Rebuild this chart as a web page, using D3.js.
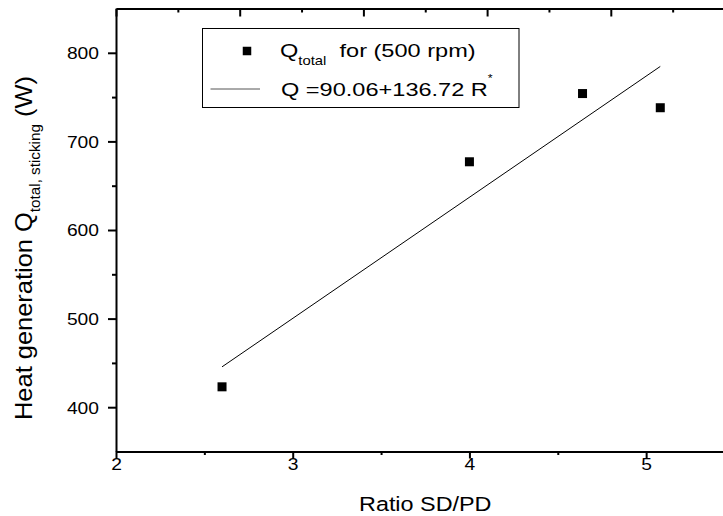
<!DOCTYPE html>
<html>
<head>
<meta charset="utf-8">
<script src="https://cdn.jsdelivr.net/npm/d3@7"></script>
<style>
  body { margin: 0; background: #fff; }
  svg { display: block; }
  text { font-family: "Liberation Sans", Arial, sans-serif; fill: #000; }
  .axis path, .axis line { stroke: #000; stroke-width: 2; }
</style>
</head>
<body>
<div id="chart"></div>
<script>
var width = 723, height = 516;

// data
var ratio = [2.6, 4.0, 4.64, 5.08];
var qTotal = [423, 677, 754, 738];
var fitIntercept = 90.06, fitSlope = 136.72;
var fitRange = [2.6, 5.08];

var xMajor = [2, 3, 4, 5], xMinor = [2.5, 3.5, 4.5];
var yMajor = [400, 500, 600, 700, 800], yMinor = [450, 550, 650, 750];
var topMajor = [0, 1, 2, 3, 4, 5], topMinor = [0.5, 1.5, 2.5, 3.5, 4.5];

var plotLeft = 116, plotRight = 734.5, plotTop = 8.5, plotBot = 451.5;

var x = d3.scaleLinear().domain([2, 5.5]).range([plotLeft, plotRight]);
var y = d3.scaleLinear().domain([350, 850]).range([plotBot, plotTop]);
var xTop = d3.scaleLinear().domain([0, 5]).range([plotLeft, plotRight]);

var svg = d3.select("#chart").append("svg")
    .attr("width", width)
    .attr("height", height);

// text helper, the glyphs in the picture are wider than Arial
function stretchText(sel, tx, ty, rot, sx) {
    return sel.attr("x", 0).attr("y", 0).attr("dy", null)
        .attr("transform", "translate(" + tx + "," + ty + ") rotate(" + rot + ") scale(" + sx + ",1)");
}

// bottom axis
var gx = svg.append("g").attr("class", "axis")
    .attr("transform", "translate(0," + plotBot + ")")
    .call(d3.axisBottom(x).tickValues(xMajor).tickFormat(d3.format("d")).tickSize(7).tickSizeOuter(0));
gx.selectAll(".tick text").style("font-size", "16.3px").each(function() {
    stretchText(d3.select(this), 0, 18.5, 0, 1.18);
});
svg.append("g").attr("class", "axis")
    .attr("transform", "translate(0," + plotBot + ")")
    .call(d3.axisBottom(x).tickValues(xMinor).tickFormat("").tickSize(3.5))
    .select(".domain").remove();

// left axis
var gy = svg.append("g").attr("class", "axis")
    .attr("transform", "translate(" + plotLeft + ",0)")
    .call(d3.axisLeft(y).tickValues(yMajor).tickFormat(d3.format("d")).tickSize(8).tickSizeOuter(0));
gy.selectAll(".tick text").style("font-size", "16.3px").each(function() {
    stretchText(d3.select(this), -17, 5.8, 0, 1.18);
});
svg.append("g").attr("class", "axis")
    .attr("transform", "translate(" + plotLeft + ",0)")
    .call(d3.axisLeft(y).tickValues(yMinor).tickFormat("").tickSize(4))
    .select(".domain").remove();

// top axis, ticks pointing in
svg.append("g").attr("class", "axis")
    .attr("transform", "translate(0," + plotTop + ")")
    .call(d3.axisTop(xTop).tickValues(topMajor).tickFormat("").tickSizeInner(-8).tickSizeOuter(0));
svg.append("g").attr("class", "axis")
    .attr("transform", "translate(0," + plotTop + ")")
    .call(d3.axisTop(xTop).tickValues(topMinor).tickFormat("").tickSize(-4))
    .select(".domain").remove();

// axis titles
stretchText(svg.append("text"), (plotLeft + plotRight) / 2, 511, 0, 1.2)
    .attr("text-anchor", "middle")
    .style("font-size", "19.5px")
    .text("Ratio SD/PD");

var yt = stretchText(svg.append("text"), 32, 420, -90, 1.06)
    .style("font-size", "24px");
yt.append("tspan").text("Heat generation Q");
yt.append("tspan").attr("dy", 8).style("font-size", "14.4px").text("total, sticking");
yt.append("tspan").attr("dy", -8).text("\u00a0(W)");

// fit line
svg.append("line")
    .attr("x1", x(fitRange[0])).attr("y1", y(fitIntercept + fitSlope * fitRange[0]))
    .attr("x2", x(fitRange[1])).attr("y2", y(fitIntercept + fitSlope * fitRange[1]))
    .attr("stroke", "#000")
    .attr("stroke-width", 1);

// data points
var ms = 9;
svg.selectAll(".pt").data(ratio).enter().append("rect")
    .attr("class", "pt")
    .attr("x", function(d) { return x(d) - ms / 2; })
    .attr("y", function(d, i) { return y(qTotal[i]) - ms / 2; })
    .attr("width", ms)
    .attr("height", ms)
    .attr("fill", "#000");

// legend
var legend = svg.append("g").attr("class", "legend");
legend.append("rect")
    .attr("x", 202.5).attr("y", 28.5)
    .attr("width", 316.5).attr("height", 79)
    .attr("fill", "#fff")
    .attr("stroke", "#000")
    .attr("stroke-width", 1);
legend.append("rect")
    .attr("x", 247 - 4.25).attr("y", 51 - 4.25)
    .attr("width", 8.5).attr("height", 8.5)
    .attr("fill", "#000");
legend.append("line")
    .attr("x1", 210.5).attr("x2", 260)
    .attr("y1", 89).attr("y2", 89)
    .attr("stroke", "#555")
    .attr("stroke-width", 1);

var l1 = stretchText(legend.append("text"), 280, 57, 0, 1.24).style("font-size", "19px");
l1.append("tspan").text("Q");
l1.append("tspan").attr("dy", 8).style("font-size", "12px").text("total");
l1.append("tspan").attr("dy", -8).text("\u00a0\u00a0for (500 rpm)");

var l2 = stretchText(legend.append("text"), 281, 95.5, 0, 1.24).style("font-size", "19px");
l2.append("tspan").text("Q =90.06+136.72 R");
l2.append("tspan").attr("dy", -14).style("font-size", "10px").text("*");
</script>
</body>
</html>
